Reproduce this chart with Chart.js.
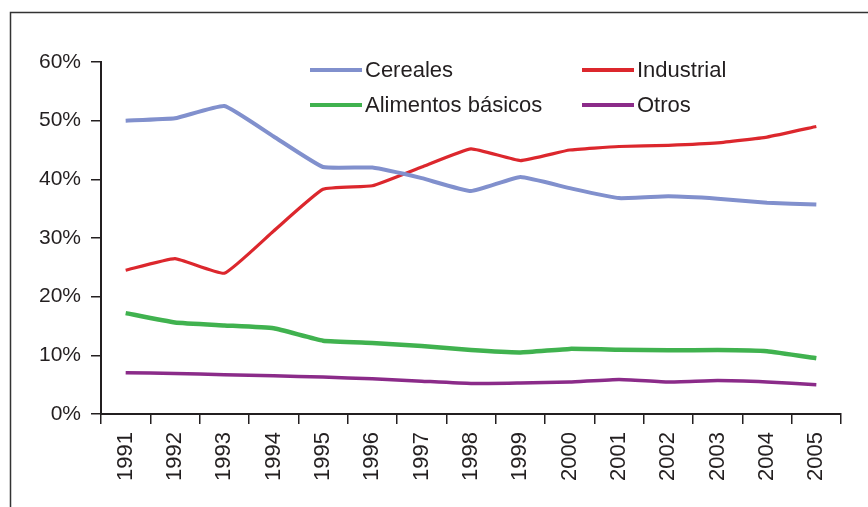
<!DOCTYPE html>
<html>
<head>
<meta charset="utf-8">
<script src="https://cdn.jsdelivr.net/npm/chart.js@4"></script>
<style>
  html, body { margin: 0; padding: 0; background: #ffffff; }
  #wrap { width: 868px; height: 507px; }
</style>
</head>
<body>
<div id="wrap"><canvas id="grafico" width="868" height="507"></canvas></div>
<script>
// Datos
const anios = ["1991", "1992", "1993", "1994", "1995", "1996", "1997", "1998",
  "1999", "2000", "2001", "2002", "2003", "2004", "2005"];
const cereales = [50.0, 50.4, 52.5, 47.3, 42.1, 42.0, 40.2, 38.0, 40.4, 38.5, 36.8, 37.1, 36.7, 36.0, 35.7];
const industrial = [24.5, 26.5, 24.0, 31.2, 38.3, 38.9, 42.1, 45.2, 43.2, 45.0, 45.6, 45.8, 46.2, 47.2, 49.0];
const alimentos = [17.2, 15.6, 15.1, 14.6, 12.5, 12.1, 11.6, 10.9, 10.5, 11.1, 10.95, 10.85, 10.9, 10.7, 9.5];
const otros = [7.05, 6.9, 6.7, 6.5, 6.3, 6.0, 5.6, 5.2, 5.3, 5.45, 5.9, 5.45, 5.7, 5.45, 5.0];
const ticksY = [0, 10, 20, 30, 40, 50, 60];

const colorTexto = "#231f20";
const fuente = "'Liberation Sans', Arial, sans-serif";

// Marco exterior
const marco = {
  id: "marco",
  beforeDraw(chart) {
    const ctx = chart.ctx;
    ctx.save();
    ctx.strokeStyle = "#333333";
    ctx.lineWidth = 1.5;
    ctx.beginPath();
    ctx.moveTo(10.5, 507);
    ctx.lineTo(10.5, 12.5);
    ctx.lineTo(868, 12.5);
    ctx.stroke();
    ctx.restore();
  }
};

// Leyenda en dos columnas dentro del area del grafico
const leyenda = {
  id: "leyenda",
  afterDraw(chart) {
    const ctx = chart.ctx;
    const cols = [310, 582];
    const filas = [70, 105];
    ctx.save();
    ctx.font = "22px " + fuente;
    ctx.textBaseline = "middle";
    ctx.fillStyle = colorTexto;
    chart.data.datasets.forEach((ds, i) => {
      const x = cols[i % 2];
      const y = filas[Math.floor(i / 2)];
      ctx.strokeStyle = ds.borderColor;
      ctx.lineWidth = 4;
      ctx.beginPath();
      ctx.moveTo(x, y);
      ctx.lineTo(x + 52, y);
      ctx.stroke();
      ctx.fillText(ds.label, x + 55, y + 1);
    });
    ctx.restore();
  }
};

const serie = (label, data, color, ancho) => ({
  label: label,
  data: data,
  borderColor: color,
  backgroundColor: color,
  borderWidth: ancho,
  pointRadius: 0,
  tension: 0.12,
  fill: false
});

new Chart(document.getElementById("grafico"), {
  type: "line",
  data: {
    labels: anios,
    datasets: [
      serie("Cereales", cereales, "#8190cd", 4),
      serie("Industrial", industrial, "#dc272d", 3.2),
      serie("Alimentos básicos", alimentos, "#40b24f", 4.5),
      serie("Otros", otros, "#8b2b89", 3.5)
    ]
  },
  options: {
    responsive: false,
    animation: false,
    devicePixelRatio: 1,
    layout: { padding: { left: 0, top: 62, right: 27, bottom: 0 } },
    plugins: {
      legend: { display: false },
      tooltip: { enabled: false }
    },
    scales: {
      x: {
        offset: true,
        afterFit: (s) => { s.height = 93; },
        border: { color: colorTexto, width: 2 },
        grid: { offset: true, drawOnChartArea: false, tickLength: 10, color: colorTexto, lineWidth: 1.5 },
        ticks: { minRotation: 90, maxRotation: 90, padding: 8, color: colorTexto, font: { family: fuente, size: 22 } }
      },
      y: {
        min: 0,
        max: 60,
        afterFit: (s) => { s.width = 101; },
        afterBuildTicks: (s) => { s.ticks = ticksY.map(v => ({ value: v })); },
        border: { color: colorTexto, width: 2 },
        grid: { drawOnChartArea: false, tickLength: 10, color: colorTexto, lineWidth: 1.5 },
        ticks: { padding: 10, color: colorTexto, font: { family: fuente, size: 21 }, callback: (v) => v + "%" }
      }
    }
  },
  plugins: [marco, leyenda]
});
</script>
</body>
</html>
